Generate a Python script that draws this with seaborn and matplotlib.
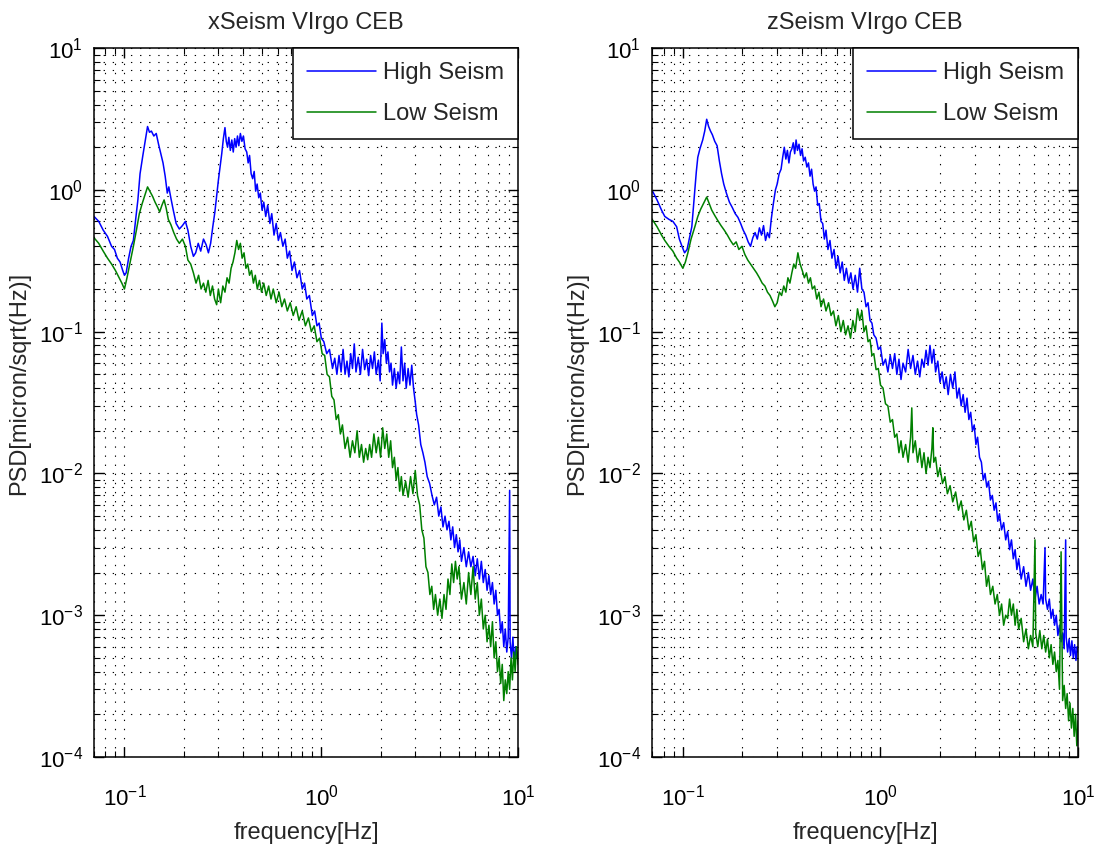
import numpy as np
import pandas as pd
import matplotlib
matplotlib.use("Agg")
import matplotlib.pyplot as plt
import seaborn as sns
from matplotlib.ticker import LogLocator, NullFormatter

# ---------------- data ----------------
titles = ["xSeism VIrgo CEB", "zSeism VIrgo CEB"]
series_labels = ["High Seism", "Low Seism"]
xlabel_text = "frequency[Hz]"
ylabel_text = "PSD[micron/sqrt(Hz)]"

# xSeism, High Seism
x_high_f = [0.070, 0.074, 0.078, 0.082, 0.086, 0.089, 0.092, 0.095, 0.098, 0.100,
            0.102, 0.105, 0.108, 0.111, 0.114, 0.117, 0.120, 0.124, 0.128, 0.131,
            0.134, 0.137, 0.141, 0.145, 0.149, 0.153, 0.157, 0.161, 0.165, 0.168,
            0.172, 0.177, 0.183, 0.190, 0.197, 0.204, 0.210, 0.217, 0.224, 0.230,
            0.237, 0.244, 0.252, 0.260, 0.267, 0.274, 0.281, 0.288, 0.295, 0.300,
            0.306, 0.312, 0.318, 0.324, 0.329, 0.334, 0.339, 0.345, 0.351, 0.357,
            0.363, 0.369, 0.375, 0.381, 0.388, 0.395, 0.402, 0.410, 0.418, 0.425,
            0.432, 0.440, 0.448, 0.456, 0.464, 0.472, 0.481, 0.490, 0.500, 0.510,
            0.522, 0.534, 0.548, 0.560, 0.575, 0.590, 0.605, 0.620, 0.638, 0.655,
            0.672, 0.690, 0.710, 0.730, 0.752, 0.775, 0.800, 0.822, 0.844, 0.870,
            0.900, 0.925, 0.950, 0.975, 1.000, 1.030, 1.065, 1.100, 1.140, 1.170,
            1.200, 1.230, 1.260, 1.290, 1.320, 1.350, 1.380, 1.410, 1.440, 1.470,
            1.500, 1.540, 1.580, 1.620, 1.660, 1.700, 1.740, 1.780, 1.820, 1.860,
            1.900, 1.950, 1.990, 2.030, 2.060, 2.100, 2.140, 2.180, 2.220, 2.260,
            2.300, 2.350, 2.400, 2.450, 2.500, 2.550, 2.600, 2.650, 2.700, 2.760,
            2.820, 2.880, 2.940, 3.000, 3.050, 3.120, 3.200, 3.280, 3.360, 3.450,
            3.550, 3.650, 3.750, 3.850, 3.950, 4.050, 4.150, 4.250, 4.350, 4.450,
            4.550, 4.650, 4.750, 4.850, 4.950, 5.050, 5.150, 5.300, 5.450, 5.600,
            5.750, 5.900, 6.050, 6.200, 6.350, 6.500, 6.650, 6.800, 6.950, 7.100,
            7.250, 7.400, 7.550, 7.700, 7.850, 8.000, 8.150, 8.300, 8.450, 8.600,
            8.750, 8.900, 9.050, 9.100, 9.250, 9.400, 9.550, 9.700, 9.850, 10.0]
x_high_v = [0.65, 0.60, 0.52, 0.47, 0.40, 0.38, 0.33, 0.31, 0.27, 0.25,
            0.26, 0.33, 0.40, 0.44, 0.62, 0.85, 1.30, 1.75, 2.30, 2.80,
            2.55, 2.60, 2.40, 2.50, 2.10, 1.80, 1.55, 1.25, 0.95, 1.05,
            0.88, 0.72, 0.58, 0.53, 0.56, 0.60, 0.52, 0.40, 0.34, 0.36,
            0.42, 0.37, 0.45, 0.41, 0.36, 0.42, 0.55, 0.70, 0.95, 1.17,
            1.45, 1.80, 2.30, 2.75, 2.20, 2.00, 2.35, 1.90, 2.25, 1.85,
            2.30, 2.00, 2.40, 2.05, 2.50, 2.20, 2.40, 1.95, 1.85, 1.55,
            1.75, 1.30, 1.20, 1.35, 0.98, 1.10, 0.88, 0.95, 0.72, 0.82,
            0.65, 0.78, 0.58, 0.68, 0.48, 0.58, 0.44, 0.50, 0.40, 0.45,
            0.33, 0.37, 0.27, 0.31, 0.24, 0.27, 0.20, 0.22, 0.17, 0.18,
            0.13, 0.14, 0.11, 0.115, 0.090, 0.085, 0.070, 0.075, 0.055, 0.065,
            0.050, 0.068, 0.052, 0.075, 0.050, 0.062, 0.048, 0.070, 0.055, 0.082,
            0.052, 0.066, 0.050, 0.075, 0.054, 0.064, 0.049, 0.068, 0.055, 0.072,
            0.050, 0.063, 0.045, 0.115, 0.070, 0.088, 0.060, 0.072, 0.052, 0.060,
            0.042, 0.055, 0.040, 0.052, 0.043, 0.078, 0.045, 0.060, 0.040, 0.055,
            0.042, 0.058, 0.040, 0.032, 0.026, 0.022, 0.016, 0.014, 0.0120, 0.0095,
            0.0085, 0.0070, 0.0060, 0.0068, 0.0050, 0.0058, 0.0042, 0.0050, 0.0040, 0.0046,
            0.0034, 0.0042, 0.0030, 0.0037, 0.0028, 0.0034, 0.0024, 0.0030, 0.0022, 0.0028,
            0.0022, 0.0026, 0.0019, 0.0025, 0.0018, 0.0024, 0.0017, 0.0021, 0.0015, 0.0019,
            0.0014, 0.0017, 0.0012, 0.0015, 0.0010, 0.0011, 0.00075, 0.0009, 0.00060, 0.0008,
            0.00055, 0.0007, 0.0076, 0.00065, 0.0005, 0.0007, 0.00045, 0.0006, 0.00050, 0.00055]

# xSeism, Low Seism
x_low_f = [0.070, 0.074, 0.078, 0.082, 0.086, 0.090, 0.094, 0.097, 0.100, 0.103,
           0.107, 0.111, 0.115, 0.119, 0.123, 0.127, 0.131, 0.135, 0.139, 0.143,
           0.147, 0.151, 0.155, 0.159, 0.163, 0.167, 0.172, 0.178, 0.184, 0.190,
           0.197, 0.204, 0.210, 0.217, 0.224, 0.231, 0.238, 0.245, 0.252, 0.259,
           0.266, 0.273, 0.280, 0.287, 0.294, 0.300, 0.308, 0.316, 0.324, 0.332,
           0.340, 0.348, 0.356, 0.364, 0.372, 0.380, 0.388, 0.396, 0.405, 0.414,
           0.423, 0.432, 0.442, 0.452, 0.462, 0.473, 0.485, 0.497, 0.510, 0.525,
           0.540, 0.555, 0.570, 0.590, 0.610, 0.630, 0.650, 0.672, 0.695, 0.720,
           0.745, 0.770, 0.800, 0.830, 0.860, 0.890, 0.920, 0.950, 0.980, 1.010,
           1.040, 1.070, 1.100, 1.130, 1.160, 1.190, 1.220, 1.250, 1.280, 1.320,
           1.360, 1.400, 1.440, 1.480, 1.520, 1.560, 1.600, 1.640, 1.680, 1.720,
           1.760, 1.800, 1.850, 1.900, 1.950, 2.000, 2.050, 2.100, 2.150, 2.200,
           2.250, 2.300, 2.350, 2.400, 2.450, 2.500, 2.550, 2.600, 2.680, 2.760,
           2.840, 2.920, 3.000, 3.080, 3.160, 3.240, 3.320, 3.400, 3.480, 3.560,
           3.640, 3.720, 3.800, 3.900, 4.000, 4.100, 4.200, 4.300, 4.400, 4.500,
           4.600, 4.700, 4.800, 4.900, 5.000, 5.150, 5.300, 5.450, 5.600, 5.750,
           5.900, 6.050, 6.200, 6.350, 6.500, 6.650, 6.800, 6.950, 7.100, 7.250,
           7.400, 7.550, 7.700, 7.850, 8.000, 8.150, 8.300, 8.450, 8.600, 8.750,
           8.900, 9.050, 9.200, 9.350, 9.500, 9.650, 9.800, 10.0]
x_low_v = [0.46, 0.42, 0.37, 0.33, 0.30, 0.27, 0.24, 0.22, 0.20, 0.24,
           0.31, 0.40, 0.52, 0.68, 0.80, 0.92, 1.05, 0.97, 0.90, 0.82,
           0.76, 0.70, 0.78, 0.85, 0.74, 0.62, 0.57, 0.50, 0.45, 0.42,
           0.45, 0.40, 0.32, 0.30, 0.26, 0.22, 0.25, 0.20, 0.22, 0.19,
           0.23, 0.18, 0.21, 0.17, 0.155, 0.20, 0.16, 0.21, 0.19, 0.24,
           0.22, 0.28, 0.31, 0.36, 0.44, 0.38, 0.42, 0.33, 0.36, 0.28,
           0.30, 0.25, 0.27, 0.22, 0.25, 0.20, 0.23, 0.19, 0.22, 0.18,
           0.21, 0.17, 0.20, 0.16, 0.19, 0.15, 0.17, 0.14, 0.16, 0.13,
           0.15, 0.12, 0.14, 0.11, 0.125, 0.10, 0.11, 0.085, 0.09, 0.07,
           0.068, 0.05, 0.048, 0.035, 0.033, 0.024, 0.026, 0.019, 0.022, 0.015,
           0.018, 0.013, 0.017, 0.014, 0.020, 0.013, 0.016, 0.012, 0.015, 0.0125,
           0.016, 0.013, 0.019, 0.014, 0.018, 0.013, 0.021, 0.015, 0.019, 0.013,
           0.017, 0.011, 0.013, 0.009, 0.011, 0.0075, 0.0095, 0.007, 0.0088, 0.0068,
           0.0095, 0.0072, 0.0105, 0.0070, 0.0060, 0.0040, 0.0035, 0.0022, 0.0020, 0.0014,
           0.0016, 0.0011, 0.0014, 0.0010, 0.0013, 0.00095, 0.0014, 0.0011, 0.0018, 0.0014,
           0.0023, 0.0017, 0.0024, 0.0018, 0.0022, 0.0013, 0.0017, 0.0012, 0.0020, 0.0014,
           0.0022, 0.0013, 0.0017, 0.0010, 0.0013, 0.0008, 0.0010, 0.00065, 0.00085, 0.0006,
           0.0009, 0.0005, 0.00065, 0.0004, 0.0005, 0.00033, 0.00045, 0.00025, 0.00035, 0.00028,
           0.0004, 0.0003, 0.00050, 0.00035, 0.00055, 0.0004, 0.0006, 0.00045]

# zSeism, High Seism
z_high_f = [0.0705, 0.074, 0.078, 0.081, 0.085, 0.089, 0.093, 0.096, 0.099, 0.102,
            0.105, 0.108, 0.111, 0.113, 0.115, 0.117, 0.119, 0.122, 0.126, 0.129,
            0.132, 0.135, 0.138, 0.141, 0.145, 0.149, 0.153, 0.157, 0.161, 0.166,
            0.172, 0.178, 0.184, 0.190, 0.196, 0.202, 0.208, 0.214, 0.220, 0.226,
            0.232, 0.238, 0.244, 0.250, 0.256, 0.262, 0.268, 0.274, 0.280, 0.287,
            0.294, 0.300, 0.307, 0.314, 0.320, 0.326, 0.332, 0.338, 0.344, 0.350,
            0.356, 0.362, 0.368, 0.374, 0.380, 0.387, 0.394, 0.401, 0.408, 0.416,
            0.424, 0.432, 0.440, 0.448, 0.456, 0.464, 0.472, 0.481, 0.490, 0.500,
            0.510, 0.520, 0.530, 0.542, 0.555, 0.568, 0.582, 0.596, 0.610, 0.625,
            0.640, 0.656, 0.672, 0.690, 0.708, 0.726, 0.745, 0.765, 0.785, 0.805,
            0.825, 0.845, 0.865, 0.885, 0.905, 0.925, 0.950, 0.975, 1.000, 1.030,
            1.060, 1.090, 1.120, 1.150, 1.180, 1.210, 1.240, 1.270, 1.300, 1.340,
            1.380, 1.420, 1.460, 1.500, 1.540, 1.580, 1.620, 1.660, 1.700, 1.740,
            1.780, 1.820, 1.860, 1.900, 1.950, 2.000, 2.050, 2.100, 2.150, 2.200,
            2.260, 2.320, 2.380, 2.440, 2.500, 2.560, 2.620, 2.680, 2.740, 2.800,
            2.860, 2.920, 2.980, 3.040, 3.100, 3.170, 3.240, 3.310, 3.380, 3.450,
            3.520, 3.600, 3.680, 3.760, 3.840, 3.920, 4.000, 4.100, 4.200, 4.300,
            4.400, 4.500, 4.600, 4.700, 4.800, 4.900, 5.000, 5.150, 5.300, 5.450,
            5.600, 5.750, 5.900, 6.050, 6.200, 6.350, 6.500, 6.650, 6.800, 6.850,
            7.000, 7.150, 7.300, 7.450, 7.600, 7.750, 7.900, 8.050, 8.200, 8.350,
            8.500, 8.650, 8.700, 8.850, 9.000, 9.150, 9.300, 9.450, 9.600, 9.750,
            9.900, 10.0]
z_high_v = [0.97, 0.85, 0.72, 0.65, 0.62, 0.60, 0.55, 0.45, 0.40, 0.36,
            0.38, 0.46, 0.55, 0.75, 1.00, 1.35, 1.70, 1.95, 2.25, 2.60,
            3.15, 2.80, 2.60, 2.45, 2.20, 2.05, 1.60, 1.30, 1.10, 0.95,
            0.82, 0.75, 0.68, 0.64, 0.58, 0.52, 0.48, 0.43, 0.40, 0.46,
            0.50, 0.45, 0.54, 0.48, 0.56, 0.44, 0.50, 0.46, 0.62, 0.80,
            1.00, 1.10, 1.30, 1.40, 1.70, 2.00, 1.65, 1.90, 1.55, 1.85,
            1.95, 2.15, 1.80, 2.25, 1.90, 2.10, 1.75, 1.95, 1.60, 1.70,
            1.45, 1.55, 1.25, 1.40, 1.10, 0.98, 1.05, 0.78, 0.80, 0.60,
            0.58, 0.45, 0.52, 0.38, 0.44, 0.33, 0.38, 0.28, 0.34, 0.26,
            0.31, 0.23, 0.28, 0.22, 0.26, 0.20, 0.25, 0.19, 0.28, 0.20,
            0.19, 0.15, 0.16, 0.12, 0.115, 0.095, 0.090, 0.075, 0.078, 0.058,
            0.064, 0.052, 0.068, 0.055, 0.070, 0.050, 0.064, 0.046, 0.060, 0.052,
            0.075, 0.055, 0.068, 0.050, 0.062, 0.048, 0.064, 0.056, 0.074, 0.058,
            0.080, 0.060, 0.075, 0.052, 0.062, 0.044, 0.052, 0.040, 0.048, 0.036,
            0.050, 0.040, 0.052, 0.034, 0.040, 0.030, 0.036, 0.027, 0.034, 0.024,
            0.027, 0.020, 0.022, 0.016, 0.018, 0.013, 0.012, 0.0090, 0.010, 0.0080,
            0.0088, 0.0065, 0.0070, 0.0055, 0.0062, 0.0046, 0.0052, 0.0040, 0.0045, 0.0034,
            0.0039, 0.0029, 0.0034, 0.0025, 0.0029, 0.0021, 0.0025, 0.0018, 0.0022, 0.0016,
            0.0020, 0.0015, 0.0018, 0.0013, 0.0016, 0.0012, 0.0014, 0.0012, 0.0030, 0.0013,
            0.0011, 0.0013, 0.00095, 0.0011, 0.00085, 0.0010, 0.00072, 0.00085, 0.00065, 0.00075,
            0.00058, 0.0034, 0.0007, 0.00055, 0.00068, 0.00052, 0.00066, 0.00050, 0.00062, 0.00048,
            0.0006, 0.00055]

# zSeism, Low Seism
z_low_f = [0.0705, 0.074, 0.078, 0.081, 0.085, 0.089, 0.093, 0.096, 0.100, 0.103,
           0.106, 0.110, 0.115, 0.119, 0.123, 0.127, 0.132, 0.136, 0.140, 0.145,
           0.150, 0.156, 0.162, 0.168, 0.174, 0.180, 0.186, 0.192, 0.199, 0.206,
           0.213, 0.220, 0.228, 0.236, 0.244, 0.252, 0.260, 0.268, 0.276, 0.284,
           0.292, 0.300, 0.308, 0.316, 0.324, 0.332, 0.340, 0.348, 0.356, 0.364,
           0.372, 0.382, 0.392, 0.402, 0.412, 0.422, 0.432, 0.442, 0.452, 0.464,
           0.476, 0.488, 0.500, 0.515, 0.530, 0.546, 0.562, 0.578, 0.595, 0.612,
           0.630, 0.648, 0.666, 0.685, 0.705, 0.725, 0.745, 0.765, 0.785, 0.805,
           0.825, 0.845, 0.865, 0.885, 0.905, 0.925, 0.950, 0.975, 1.000, 1.030,
           1.060, 1.090, 1.120, 1.150, 1.180, 1.210, 1.240, 1.270, 1.300, 1.340,
           1.380, 1.420, 1.440, 1.460, 1.500, 1.540, 1.580, 1.620, 1.660, 1.700,
           1.740, 1.780, 1.820, 1.840, 1.860, 1.900, 1.950, 2.000, 2.060, 2.120,
           2.180, 2.250, 2.320, 2.400, 2.480, 2.560, 2.640, 2.720, 2.800, 2.880,
           2.960, 3.040, 3.120, 3.200, 3.280, 3.360, 3.440, 3.520, 3.600, 3.700,
           3.800, 3.900, 4.000, 4.100, 4.200, 4.300, 4.400, 4.500, 4.600, 4.700,
           4.800, 4.900, 5.000, 5.150, 5.300, 5.450, 5.600, 5.750, 5.900, 6.050,
           6.100, 6.250, 6.400, 6.550, 6.700, 6.850, 7.000, 7.150, 7.300, 7.450,
           7.600, 7.750, 7.900, 8.050, 8.200, 8.350, 8.500, 8.650, 8.800, 8.950,
           9.100, 9.250, 9.400, 9.550, 9.700, 9.850, 10.0]
z_low_v = [0.61, 0.55, 0.48, 0.44, 0.40, 0.37, 0.33, 0.31, 0.28, 0.31,
           0.36, 0.45, 0.55, 0.65, 0.73, 0.80, 0.89, 0.80, 0.72, 0.66,
           0.61, 0.56, 0.52, 0.48, 0.44, 0.41, 0.43, 0.38, 0.40, 0.35,
           0.32, 0.30, 0.28, 0.26, 0.24, 0.22, 0.21, 0.19, 0.18, 0.165,
           0.15, 0.16, 0.19, 0.18, 0.21, 0.19, 0.24, 0.22, 0.26, 0.30,
           0.28, 0.36, 0.30, 0.27, 0.24, 0.26, 0.22, 0.24, 0.20, 0.21,
           0.17, 0.19, 0.15, 0.17, 0.14, 0.16, 0.13, 0.14, 0.11, 0.13,
           0.10, 0.12, 0.095, 0.11, 0.09, 0.12, 0.10, 0.145, 0.12, 0.14,
           0.10, 0.11, 0.085, 0.088, 0.068, 0.070, 0.054, 0.055, 0.042, 0.040,
           0.031, 0.030, 0.023, 0.024, 0.018, 0.019, 0.014, 0.017, 0.013, 0.016,
           0.012, 0.018, 0.029, 0.014, 0.017, 0.012, 0.015, 0.011, 0.014, 0.010,
           0.013, 0.011, 0.015, 0.021, 0.012, 0.013, 0.0095, 0.011, 0.0085, 0.0095,
           0.0072, 0.0082, 0.0063, 0.0074, 0.0055, 0.0064, 0.0047, 0.0055, 0.0040, 0.0046,
           0.0033, 0.0037, 0.0026, 0.0029, 0.0021, 0.0024, 0.0016, 0.0019, 0.0014, 0.0016,
           0.0012, 0.0014, 0.0010, 0.0012, 0.00085, 0.0010, 0.00095, 0.0013, 0.0010, 0.0012,
           0.00085, 0.0011, 0.00080, 0.00095, 0.00065, 0.0008, 0.00058, 0.00072, 0.00060, 0.0034,
           0.00075, 0.0006, 0.00078, 0.00058, 0.00072, 0.00055, 0.00068, 0.0005, 0.00062, 0.00045,
           0.00055, 0.00040, 0.00048, 0.0003, 0.0028, 0.00025, 0.00032, 0.00022, 0.00028, 0.00018,
           0.00024, 0.00016, 0.00022, 0.00014, 0.00020, 0.00012, 0.00018]

x_limits = [0.07, 10.0]
y_limits = [1e-4, 10.0]

# ---------------- styling ----------------
sns.set_theme(style="ticks")
plt.rcParams["font.family"] = ["Liberation Sans", "DejaVu Sans"]
plt.rcParams["mathtext.default"] = "regular"

blue = "#0000FF"
green = "#008000"

fig = plt.figure(figsize=(10.99, 8.52), dpi=100)
fig.patch.set_facecolor("white")
ax_positions = [[0.0855, 0.1115, 0.386, 0.832],
                [0.5935, 0.1115, 0.3875, 0.832]]

panels = [
    (x_high_f, x_high_v, x_low_f, x_low_v),
    (z_high_f, z_high_v, z_low_f, z_low_v),
]

for pos, title, (hf, hv, lf, lv) in zip(ax_positions, titles, panels):
    ax = fig.add_axes(pos)
    df_h = pd.DataFrame({"f": hf, "psd": hv})
    df_l = pd.DataFrame({"f": lf, "psd": lv})
    sns.lineplot(data=df_h, x="f", y="psd", ax=ax, color=blue, linewidth=1.1,
                 estimator=None, sort=False, label=series_labels[0])
    sns.lineplot(data=df_l, x="f", y="psd", ax=ax, color=green, linewidth=1.1,
                 estimator=None, sort=False, label=series_labels[1])
    ax.set_xscale("log")
    ax.set_yscale("log")
    ax.set_xlim(*x_limits)
    ax.set_ylim(*y_limits)
    ax.xaxis.set_major_locator(LogLocator(base=10, numticks=10))
    ax.yaxis.set_major_locator(LogLocator(base=10, numticks=10))
    ax.xaxis.set_minor_locator(LogLocator(base=10, subs=np.arange(2, 10), numticks=20))
    ax.yaxis.set_minor_locator(LogLocator(base=10, subs=np.arange(2, 10), numticks=20))
    ax.xaxis.set_minor_formatter(NullFormatter())
    ax.yaxis.set_minor_formatter(NullFormatter())
    ax.grid(True, which="both", color="black", linestyle=(0, (1.2, 7)), linewidth=0.8)
    ax.set_axisbelow(True)
    ax.tick_params(which="both", direction="in", top=True, right=True, colors="black")
    ax.tick_params(which="major", length=7, width=1.0, labelsize=16)
    ax.tick_params(which="minor", length=4, width=0.8)
    ax.tick_params(axis="x", which="major", pad=20)
    ax.tick_params(axis="y", which="major", pad=8)
    for sp in ax.spines.values():
        sp.set_visible(True)
        sp.set_color("black")
        sp.set_linewidth(1.1)
    ax.set_title(title, fontsize=17, pad=14)
    ax.set_xlabel(xlabel_text, fontsize=17, labelpad=8)
    ax.set_ylabel(ylabel_text, fontsize=17)
    ax.yaxis.set_label_coords(-0.15, 0.527)
    leg = ax.legend(loc="upper right", borderaxespad=0.0, fancybox=False,
                    framealpha=1.0, edgecolor="black", fontsize=17,
                    handlelength=2.9, handletextpad=0.3, borderpad=0.6,
                    labelspacing=0.8)
    leg.get_frame().set_linewidth(1.1)

fig.savefig("out.png", dpi=100, facecolor="white")
